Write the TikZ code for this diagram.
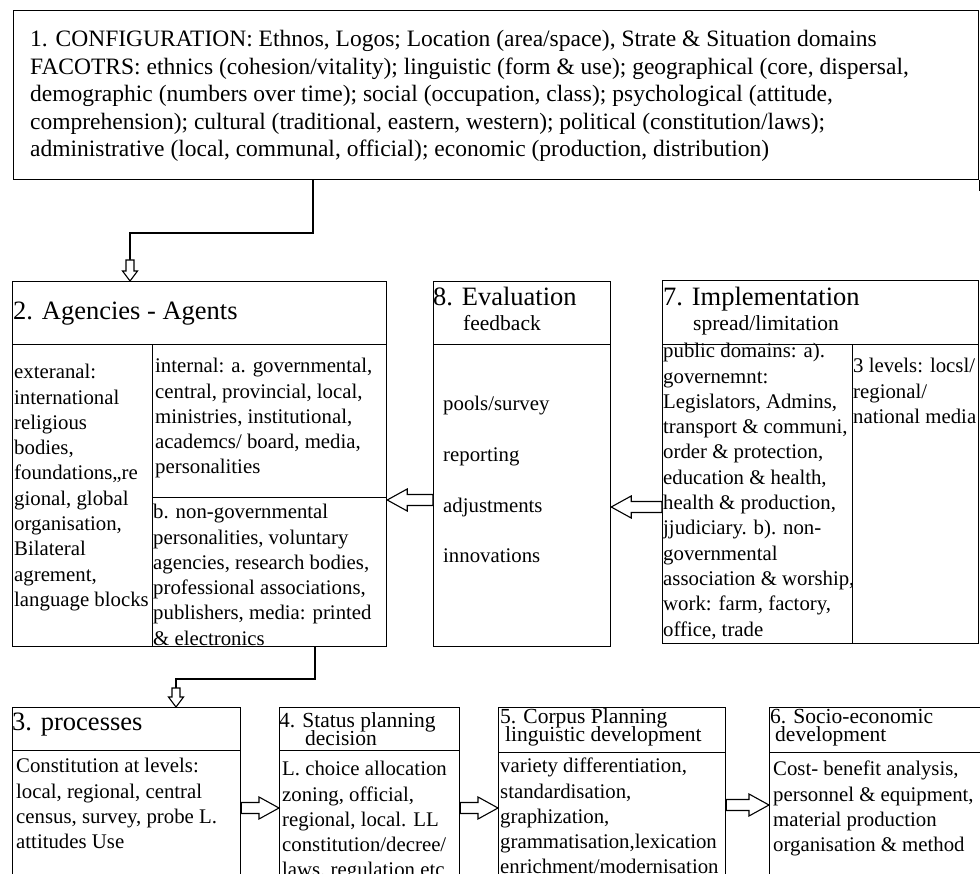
\documentclass[tikz,border=0pt]{standalone}
\usepackage{fontspec}
\setmainfont{Liberation Serif}
\usetikzlibrary{calc,decorations.pathreplacing}

\newcommand{\RKtop}{\fontsize{23.5pt}{27.5pt}\selectfont}
\newcommand{\RKbig}{\fontsize{26.5pt}{30pt}\selectfont}
\newcommand{\RKbody}{\fontsize{20.8pt}{25.3pt}\selectfont}
\newcommand{\RKwide}{\fontsize{20.8pt}{50.7pt}\selectfont}
\newcommand{\RKsub}{\fontsize{21.5pt}{17pt}\selectfont}
\newcommand{\RKtight}{\fontsize{21.5pt}{18.7pt}\selectfont\lineskiplimit=-50pt\lineskip=0pt}
\newcommand{\RKstrut}{\rule{0pt}{22pt}}

\tikzset{
  cell/.style={draw=black, line width=1.2pt, rectangle, inner sep=0pt, anchor=north west},
  txt/.style={inner sep=0pt, anchor=north west, align=left, text=black},
  ltxt/.style={inner sep=0pt, anchor=base west, text=black},
  link/.style={draw=black, line width=1.2pt},
  blockarrow/.style n args={3}{decorate, decoration={show path construction, lineto code={
     \path (\tikzinputsegmentfirst) coordinate (baS) (\tikzinputsegmentlast) coordinate (baE);
     \draw[line width=1.1pt, fill=white, line join=miter]
       ($(baS)!#1!90:(baE)$) -- ($(baE)!#3!(baS)!#1!90:(baE)$) -- ($(baE)!#3!(baS)!#2!90:(baE)$)
       -- (baE) -- ($(baE)!#3!(baS)!#2!-90:(baE)$) -- ($(baE)!#3!(baS)!#1!-90:(baE)$)
       -- ($(baS)!#1!-90:(baE)$) -- cycle;
  }}},
  bigarrow/.style={blockarrow={5.5pt}{11pt}{20pt}},
  smallarrow/.style={blockarrow={4pt}{7.5pt}{10pt}}
}

\begin{document}
\begin{tikzpicture}[x=1pt, y=-1pt]
\clip (0,0) rectangle (980,874);
\fill[white] (0,0) rectangle (980,874);

% ---------- cells ----------
\node[cell, minimum width=965pt, minimum height=169pt] (b1) at (13,10) {};

\node[cell, minimum width=374pt, minimum height=63pt] (b2t) at (12,281) {};
\node[cell, minimum width=140pt, minimum height=302pt] (b2l) at (12,344) {};
\node[cell, minimum width=234pt, minimum height=153pt] (b2r1) at (152,344) {};
\node[cell, minimum width=234pt, minimum height=149pt] (b2r2) at (152,497) {};

\node[cell, minimum width=177pt, minimum height=63pt] (b8t) at (433,281) {};
\node[cell, minimum width=177pt, minimum height=302pt] (b8b) at (433,344) {};

\node[cell, minimum width=316pt, minimum height=64pt] (b7t) at (662,280) {};
\node[cell, minimum width=190pt, minimum height=299pt] (b7l) at (662,344) {};
\node[cell, minimum width=126pt, minimum height=299pt] (b7r) at (852,344) {};

\node[cell, minimum width=228pt, minimum height=43pt] (b3t) at (12,707) {};
\node[cell, minimum width=228pt, minimum height=200pt] (b3b) at (12,750) {};
\node[cell, minimum width=180pt, minimum height=43pt] (b4t) at (279,707) {};
\node[cell, minimum width=180pt, minimum height=200pt] (b4b) at (279,750) {};
\node[cell, minimum width=227pt, minimum height=45pt] (b5t) at (498,707) {};
\node[cell, minimum width=227pt, minimum height=200pt] (b5b) at (498,752) {};
\node[cell, minimum width=260pt, minimum height=45pt] (b6t) at (769,707) {};
\node[cell, minimum width=260pt, minimum height=200pt] (b6b) at (769,752) {};

\draw[link] (b1.south east) -- ++(0,11);

% ---------- connectors ----------
\coordinate (k1) at (313,233);
\coordinate (k2) at (130,233);
\coordinate (k3) at (130,260);
\draw[link] (b1.south -| k1) -- (k1) -- (k2) -- (k3);
\path[smallarrow] (k3) -- (k3 |- b2t.north);

\coordinate (k4) at (315,679);
\coordinate (k5) at (176,679);
\coordinate (k6) at (176,688);
\draw[link] (b2r2.south -| k4) -- (k4) -- (k5) -- (k6);
\path[smallarrow] (k6) -- (k6 |- b3t.north);

\coordinate (y82) at (0,500);
\path[bigarrow] (b8b.west |- y82) -- (b2r2.east |- y82);
\coordinate (y78) at (0,507);
\path[bigarrow] (b7l.west |- y78) -- (b8b.east |- y78);
\coordinate (yb) at (0,808);
\path[bigarrow] (b3b.east |- yb) -- (b4b.west |- yb);
\path[bigarrow] (b4b.east |- yb) -- (b5b.west |- yb);
\coordinate (yc) at (0,805);
\path[bigarrow] (b5b.east |- yc) -- (b6b.west |- yc);

% ---------- texts ----------
\node[txt, font=\RKtop] (t1) at (30,24.5) {\RKstrut 1. CONFIGURATION: Ethnos, Logos; Location (area/space), Strate \& Situation domains\\
FACOTRS: ethnics (cohesion/vitality); linguistic (form \& use); geographical (core, dispersal,\\
demographic (numbers over time); social (occupation, class); psychological (attitude,\\
comprehension); cultural (traditional, eastern, western); political (constitution/laws);\\
administrative (local, communal, official); economic (production, distribution)};

\node[ltxt, font=\RKbig] (t2) at (13,320) {2. Agencies - Agents};
\node[txt, font=\RKbody] (t2l) at (14,356.5) {\RKstrut exteranal:\\international\\religious\\bodies,\\foundations,,re\\gional, global\\organisation,\\Bilateral\\agrement,\\language blocks};
\node[txt, font=\RKbody] (t2r1) at (155,350.5) {\RKstrut internal: a. governmental,\\central, provincial, local,\\ministries, institutional,\\academcs/ board, media,\\personalities};
\begin{scope}
\clip (b2r2.north west) rectangle (b2r2.south east);
\node[txt, font=\RKbody] (t2r2) at (153,496.5) {\RKstrut b. non-governmental\\personalities, voluntary\\agencies, research bodies,\\professional associations,\\publishers, media: printed\\\& electronics};
\end{scope}

\node[ltxt, font=\RKbig] (t8) at (433,306) {8. Evaluation};
\node[ltxt, font=\RKsub] (t8s) at (463,331) {feedback};
\node[txt, font=\RKwide] (t8b) at (443,388.5) {\RKstrut pools/survey\\reporting\\adjustments\\innovations};

\node[ltxt, font=\RKbig] (t7) at (663,306) {7. Implementation};
\node[ltxt, font=\RKsub] (t7s) at (693,331) {spread/limitation};
\node[txt, font=\RKbody] (t7l) at (663,335.5) {\RKstrut public domains: a).\\governemnt:\\Legislators, Admins,\\transport \& communi,\\order \& protection,\\education \& health,\\health \& production,\\jjudiciary. b). non-\\governmental\\association \& worship,\\work: farm, factory,\\office, trade};
\node[txt, font=\RKbody] (t7r) at (853,350.5) {\RKstrut 3 levels: locsl/\\regional/\\national media};

\node[ltxt, font=\RKbig] (t3) at (12,730) {3. processes};
\node[txt, font=\RKbody] (t3b) at (16,750.5) {\RKstrut Constitution at levels:\\local, regional, central\\census, survey, probe L.\\attitudes Use};

\node[txt, font=\RKtight] (t4) at (279,705) {\RKstrut 4. Status planning\\\hspace*{26pt}decision};
\node[txt, font=\RKbody] (t4b) at (282,753.5) {\RKstrut L. choice allocation\\zoning, official,\\regional, local. LL\\constitution/decree/\\laws, regulation etc};

\node[txt, font=\RKtight] (t5) at (500,701) {\RKstrut 5. Corpus Planning\\\hspace*{5pt}linguistic development};
\node[txt, font=\RKbody] (t5b) at (500,750.5) {\RKstrut variety differentiation,\\standardisation,\\graphization,\\grammatisation,lexication\\enrichment/modernisation};

\node[txt, font=\RKtight] (t6) at (770,701) {\RKstrut 6. Socio-economic\\\hspace*{5pt}development};
\node[txt, font=\RKbody] (t6b) at (773,753.5) {\RKstrut Cost- benefit analysis,\\personnel \& equipment,\\material production\\organisation \& method};
\end{tikzpicture}
\end{document}
